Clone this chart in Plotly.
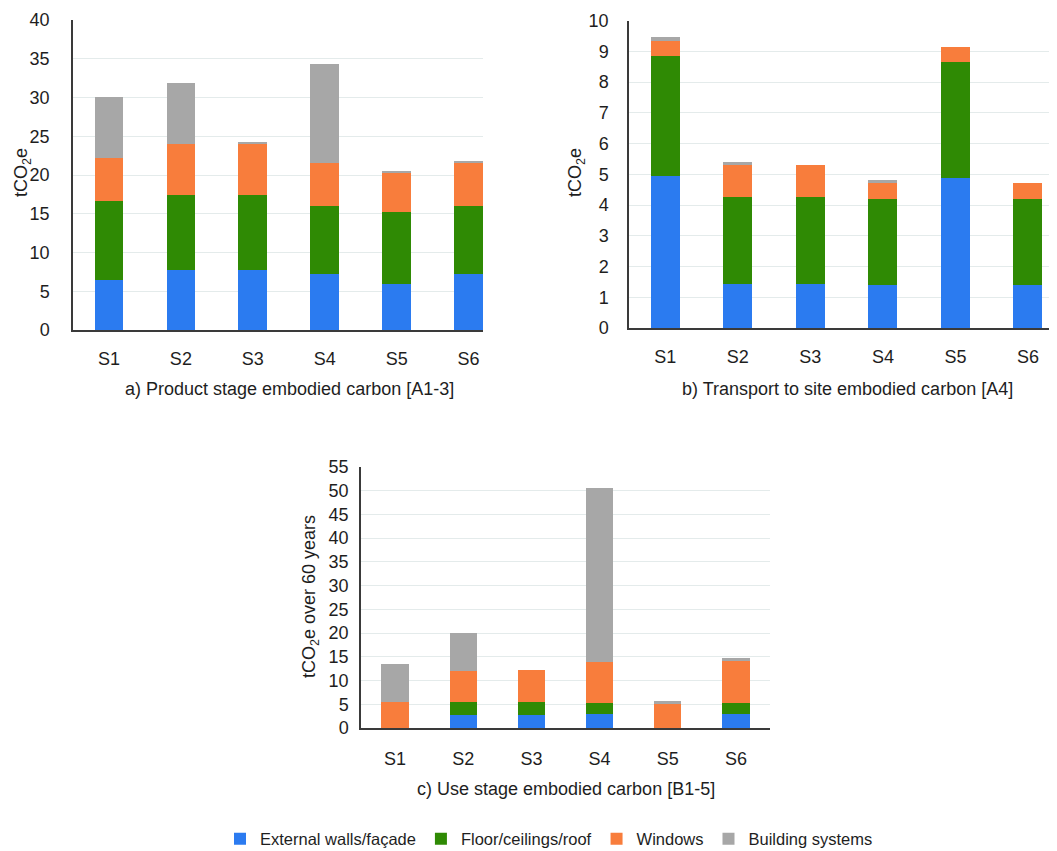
import plotly.graph_objects as go

scenarios = ["S1", "S2", "S3", "S4", "S5", "S6"]
series_names = ["External walls/façade", "Floor/ceilings/roof", "Windows", "Building systems"]
colors = ["#2b7bf0", "#2f8a04", "#f87d3c", "#a7a7a7"]

# a) Product stage embodied carbon [A1-3]
a_walls = [6.45, 7.75, 7.75, 7.2, 5.9, 7.2]
a_floor = [10.25, 9.65, 9.65, 8.8, 9.3, 8.8]
a_windows = [5.5, 6.6, 6.6, 5.6, 5.1, 5.6]
a_systems = [7.9, 7.9, 0.2, 12.7, 0.2, 0.25]

# b) Transport to site embodied carbon [A4]
b_walls = [4.96, 1.44, 1.44, 1.41, 4.88, 1.41]
b_floor = [3.89, 2.82, 2.82, 2.79, 3.79, 2.79]
b_windows = [0.5, 1.03, 1.03, 0.53, 0.47, 0.52]
b_systems = [0.11, 0.11, 0.0, 0.08, 0.0, 0.0]

# c) Use stage embodied carbon [B1-5]
c_walls = [0.0, 2.8, 2.8, 2.95, 0.0, 2.95]
c_floor = [0.0, 2.7, 2.7, 2.4, 0.0, 2.4]
c_windows = [5.5, 6.5, 6.65, 8.65, 5.0, 8.75]
c_systems = [8.05, 8.0, 0.0, 36.6, 0.6, 0.6]

panels = [
    ("x", "y", [a_walls, a_floor, a_windows, a_systems]),
    ("x2", "y2", [b_walls, b_floor, b_windows, b_systems]),
    ("x3", "y3", [c_walls, c_floor, c_windows, c_systems]),
]

fig = go.Figure()
for pi, (xa, ya, data) in enumerate(panels):
    for si, vals in enumerate(data):
        fig.add_trace(go.Bar(
            x=scenarios, y=vals, name=series_names[si],
            marker=dict(color=colors[si], line=dict(width=0)),
            xaxis=xa, yaxis=ya, showlegend=(pi == 0),
            legendgroup=series_names[si],
        ))

W, H = 1057, 851
OFF = 8  # page body margin


def px(sx):
    return (sx - OFF) / W


def py(sy):
    return 1 - (sy - OFF) / H


def xd(a, b):
    return [px(a), px(b)]


def yd(top, bottom):
    return [py(bottom), py(top)]


font_family = "Liberation Sans, Arial, sans-serif"
txt_color = "#1e1e1e"
tick_font = dict(family=font_family, size=18, color=txt_color)
grid = "#e4ebeb"
axis_line = "#3a3a3a"

common_x = dict(type="category", showline=True, linecolor=axis_line, linewidth=1.5,
                showgrid=False, ticks="", tickfont=tick_font, automargin=False)
common_y = dict(showline=True, linecolor=axis_line, linewidth=1.5, showgrid=True,
                gridcolor=grid, gridwidth=1, zeroline=False, ticks="", tickfont=tick_font,
                automargin=False)

fig.update_layout(
    width=W, height=H,
    margin=dict(l=0, r=0, t=0, b=0, autoexpand=False),
    paper_bgcolor="white", plot_bgcolor="white",
    barmode="stack", bargap=0.6,
    font=dict(family=font_family, color=txt_color),
    xaxis=dict(domain=xd(73, 483), anchor="y", range=[-0.5, 5.2], ticklabelstandoff=12, **common_x),
    yaxis=dict(domain=yd(20, 330), anchor="x", range=[0, 40], dtick=5, ticklabelstandoff=18, **common_y),
    xaxis2=dict(domain=xd(629, 1057), anchor="y2", range=[-0.5, 5.4], ticklabelstandoff=12, **common_x),
    yaxis2=dict(domain=yd(20.7, 328), anchor="x2", range=[0, 10], dtick=1, ticklabelstandoff=15, **common_y),
    xaxis3=dict(domain=xd(361, 770), anchor="y3", range=[-0.5, 5.5], ticklabelstandoff=14, **common_x),
    yaxis3=dict(domain=yd(467, 728), anchor="x3", range=[0, 55], dtick=5, ticklabelstandoff=7, **common_y),
    legend=dict(orientation="h", x=px(549), xanchor="center", y=py(839), yanchor="middle",
                font=dict(family=font_family, size=16.5, color=txt_color),
                traceorder="normal", itemwidth=30, tracegroupgap=0),
)

ann_font = dict(family=font_family, size=18, color=txt_color)
annotations = [
    dict(text="a) Product stage embodied carbon [A1-3]", x=px(289), y=py(389)),
    dict(text="b) Transport to site embodied carbon [A4]", x=px(847), y=py(389)),
    dict(text="c) Use stage embodied carbon [B1-5]", x=px(566), y=py(789)),
]
for a in annotations:
    fig.add_annotation(xref="paper", yref="paper", showarrow=False, font=ann_font,
                       xanchor="center", yanchor="middle", **a)

ytitles = [
    dict(text="tCO<sub>2</sub>e", x=px(22), y=py(173)),
    dict(text="tCO<sub>2</sub>e", x=px(576), y=py(173)),
    dict(text="tCO<sub>2</sub>e over 60 years", x=px(310), y=py(597)),
]
for a in ytitles:
    fig.add_annotation(xref="paper", yref="paper", showarrow=False, font=ann_font,
                       textangle=-90, xanchor="center", yanchor="middle", **a)

fig.write_html("out.html")
